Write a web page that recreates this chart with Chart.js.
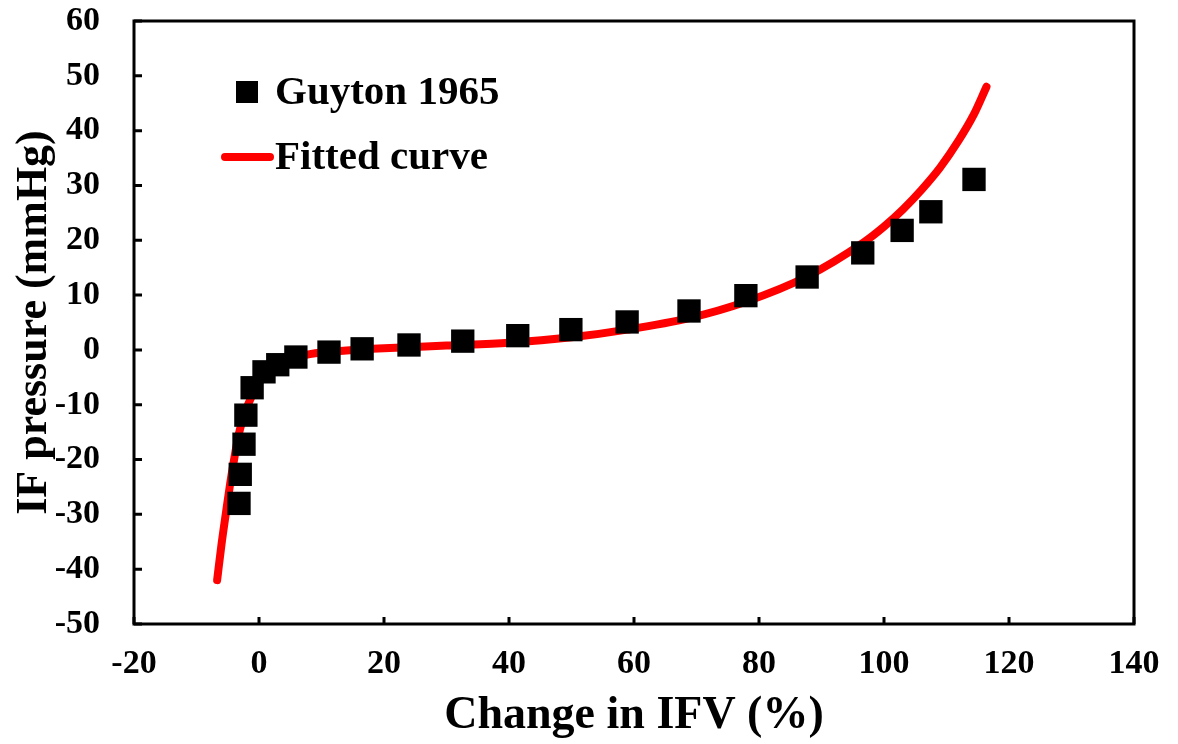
<!DOCTYPE html>
<html>
<head>
<meta charset="utf-8">
<script src="https://cdn.jsdelivr.net/npm/chart.js@4"></script>
<style>
  html, body { margin: 0; padding: 0; background: #fff; }
  #wrap { width: 1178px; height: 744px; }
</style>
</head>
<body>
<div id="wrap"><canvas id="ifvChart" width="1178" height="744"></canvas></div>
<script>
// Guyton 1965 measurements (change in IFV %, IF pressure mmHg)
const guytonX = [-3.2, -3.0, -2.4, -2.1, -1.1, 0.8, 3.0, 5.9, 11.2, 16.5, 24.0, 32.6, 41.4, 49.9, 58.9, 68.8, 77.9, 87.7, 96.6, 102.9, 107.5, 114.4];
const guytonY = [-28.0, -22.7, -17.2, -11.9, -6.9, -4.0, -2.7, -1.3, -0.4, 0.2, 0.9, 1.6, 2.6, 3.7, 5.1, 7.1, 9.9, 13.3, 17.7, 21.8, 25.2, 31.1];

// Fitted curve
const fitX = [-6.7, -6.0, -5.3, -4.6, -4.0, -3.2, -2.1, -1.3, -0.3, 1.1, 3, 6, 9, 14, 20, 30, 40, 50, 58.9, 68.8, 77.9, 87.7, 96.6, 100, 103, 106, 109, 112, 114.4, 116.4];
const fitY = [-42, -35.5, -29.8, -24.3, -20.1, -15.2, -11, -8.8, -6.5, -4.3, -2.6, -1.3, -0.6, -0.1, 0.3, 0.8, 1.3, 2.3, 3.7, 5.8, 8.8, 13.4, 19.5, 22.5, 25.6, 29.2, 33.3, 38.3, 43, 48];

const xTicks = [-20, 0, 20, 40, 60, 80, 100, 120, 140];
const yTicks = [-50, -40, -30, -20, -10, 0, 10, 20, 30, 40, 50, 60];

const seriesNames = ["Guyton 1965", "Fitted curve"];

const serif = "'Liberation Serif', 'Times New Roman', serif";

// box round the plot, inner ticks and the legend in the plot
const framePlugin = {
    id: "frame",
    afterDraw(chart) {
        const ctx = chart.ctx;
        const a = chart.chartArea;
        const xs = chart.scales.x, ys = chart.scales.y;
        ctx.save();
        ctx.strokeStyle = "#000";
        ctx.lineWidth = 3;
        ctx.strokeRect(a.left, a.top, a.right - a.left, a.bottom - a.top);
        ctx.beginPath();
        xTicks.forEach(v => {
            const px = xs.getPixelForValue(v);
            ctx.moveTo(px, a.bottom);
            ctx.lineTo(px, a.bottom - 7);
        });
        yTicks.forEach(v => {
            const py = ys.getPixelForValue(v);
            ctx.moveTo(a.left, py);
            ctx.lineTo(a.left + 8, py);
        });
        ctx.stroke();

        // legend
        ctx.font = "bold 41px " + serif;
        ctx.fillStyle = "#000";
        ctx.textBaseline = "middle";
        ctx.textAlign = "left";
        ctx.fillRect(236, 81, 22, 22);
        ctx.fillText(seriesNames[0], 275, 93);
        ctx.strokeStyle = "#ff0000";
        ctx.lineWidth = 8;
        ctx.lineCap = "round";
        ctx.beginPath();
        ctx.moveTo(225, 157);
        ctx.lineTo(270, 157);
        ctx.stroke();
        ctx.fillText(seriesNames[1], 275, 158);
        ctx.restore();
    }
};

new Chart(document.getElementById("ifvChart"), {
    type: "scatter",
    data: {
        datasets: [{
            label: seriesNames[0],
            data: guytonX.map((x, i) => ({ x: x, y: guytonY[i] })),
            pointStyle: "rect",
            pointRadius: 16.5,
            pointBorderWidth: 0,
            backgroundColor: "#000",
            borderColor: "#000",
            showLine: false
        }, {
            label: seriesNames[1],
            data: fitX.map((x, i) => ({ x: x, y: fitY[i] })),
            showLine: true,
            pointRadius: 0,
            borderColor: "#ff0000",
            backgroundColor: "#ff0000",
            borderWidth: 8,
            borderCapStyle: "round",
            cubicInterpolationMode: "monotone"
        }]
    },
    options: {
        responsive: false,
        animation: false,
        layout: { padding: { top: 21, right: 44, left: 0, bottom: 0 } },
        plugins: { legend: { display: false }, tooltip: { enabled: false } },
        scales: {
            x: {
                type: "linear",
                min: -20, max: 140,
                afterBuildTicks: s => { s.ticks = xTicks.map(v => ({ value: v })); },
                afterFit: s => { s.height = 120; s.paddingLeft = 0; s.paddingRight = 0; },
                grid: { drawOnChartArea: false, drawTicks: false },
                border: { display: false },
                ticks: { color: "#000", padding: 20, font: { family: serif, size: 34, weight: "bold" } },
                title: {
                    display: true, text: "Change in IFV (%)", color: "#000",
                    padding: { top: 0, bottom: 0 },
                    font: { family: serif, size: 46, weight: "bold" }
                }
            },
            y: {
                type: "linear",
                min: -50, max: 60,
                afterBuildTicks: s => { s.ticks = yTicks.map(v => ({ value: v })); },
                afterFit: s => { s.width = 134; s.paddingTop = 0; s.paddingBottom = 0; },
                grid: { drawOnChartArea: false, drawTicks: false },
                border: { display: false },
                ticks: { color: "#000", padding: 34, font: { family: serif, size: 34, weight: "bold" } },
                title: {
                    display: true, text: "IF pressure (mmHg)", color: "#000",
                    padding: { top: 8, bottom: 0 },
                    font: { family: serif, size: 44, weight: "bold" }
                }
            }
        }
    },
    plugins: [framePlugin]
});
</script>
</body>
</html>
